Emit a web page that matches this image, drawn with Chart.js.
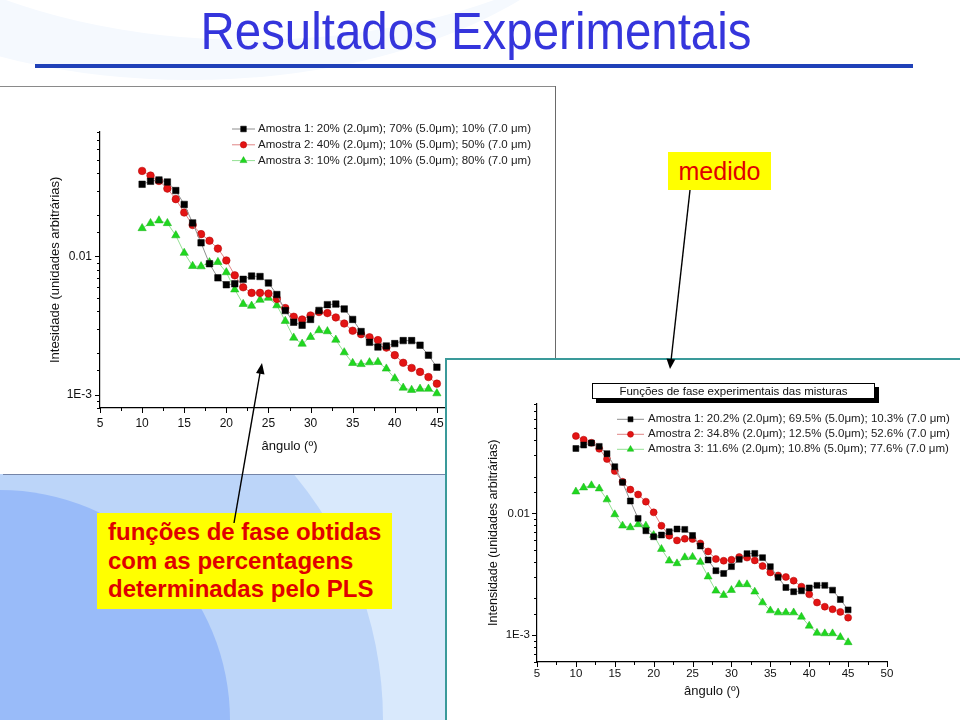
<!DOCTYPE html>
<html>
<head>
<meta charset="utf-8">
<script src="https://cdn.jsdelivr.net/npm/chart.js@4.4.1/dist/chart.umd.min.js"></script>
<style>
  body { margin: 0; width: 960px; height: 720px; overflow: hidden; background: #fff; position: relative;
         font-family: "Liberation Sans", Arial, sans-serif; }
  .abs { position: absolute; }
  #titulo { left: 476px; top: 3px; font-size: 51px; line-height: 57px; color: #3535dc; white-space: nowrap;
            transform: translateX(-50%) scaleX(0.93); }
  #regra { left: 35px; top: 64px; width: 878px; height: 4px; background: #2041b8; }
  #fundo { left: 0; top: 474px; width: 445px; height: 246px; overflow: hidden; background: #d9e9fc; }
  .circ { position: absolute; border-radius: 50%; }
  #painelInf { left: 445px; top: 358px; width: 513px; height: 360px; background: #fff;
               border-left: 2px solid #3a9a9a; border-top: 2px solid #3a9a9a; }
  #tituloInf { left: 592px; top: 383px; width: 281px; height: 14px; border: 1px solid #000; background: #fff;
               box-shadow: 4px 4px 0 #000; font-size: 11.5px; line-height: 14px; text-align: center; color: #111; }
  .caixa { background: #ffff00; color: #e00000; }
  #medido { left: 668px; top: 152px; width: 103px; height: 38px; font-size: 25px; line-height: 38px; text-align: center; }
  #pls { left: 97px; top: 513px; width: 295px; height: 96px; font-size: 24px; font-weight: bold; line-height: 28.5px;
         padding: 5px 0 0 11px; box-sizing: border-box; white-space: nowrap; }
</style>
</head>
<body>
<div class="abs" style="left:-260px;top:-420px;width:900px;height:500px;border-radius:50%;background:#f5f9fe;"></div>
<div class="abs" style="left:-200px;top:-460px;width:900px;height:500px;border-radius:50%;background:#fff;"></div>
<div id="titulo" class="abs">Resultados Experimentais</div>
<div id="regra" class="abs"></div>

<div id="fundo" class="abs">
  <div class="circ" style="left:-383px;top:-137px;width:766px;height:766px;background:#bcd5f9;"></div>
  <div class="circ" style="left:-230px;top:16px;width:460px;height:460px;background:#99bbf9;"></div>
</div>

<div class="abs" style="left:0;top:86px;width:556px;height:1px;background:#8a8a8a;"></div>
<canvas id="graficoMedido" class="abs" width="552" height="387" style="left:3px;top:87px;background:#fff;"></canvas>
<div class="abs" style="left:555px;top:86px;width:1px;height:389px;background:#6a6a6a;"></div>
<div class="abs" style="left:3px;top:474px;width:442px;height:1px;background:#7585a8;"></div>

<div id="painelInf" class="abs"></div>
<canvas id="graficoPLS" class="abs" width="513" height="360" style="left:447px;top:360px;"></canvas>
<div id="tituloInf" class="abs">Funções de fase experimentais das misturas</div>

<div id="medido" class="abs caixa">medido</div>
<div id="pls" class="abs caixa">funções de fase obtidas<br>com as percentagens<br>determinadas pelo PLS</div>

<svg class="abs" style="left:0;top:0;" width="960" height="720">
  <line x1="690" y1="190" x2="671.2" y2="359" stroke="#000" stroke-width="1.4"/>
  <polygon points="670,369 666.5,358.5 675.3,359.5" fill="#000"/>
  <line x1="234" y1="523" x2="260" y2="373" stroke="#000" stroke-width="1.4"/>
  <polygon points="262,363 256,373 264.5,374.5" fill="#000"/>
</svg>

<script>
// angulos (graus)
const angulos = [10, 11, 12, 13, 14, 15, 16, 17, 18, 19, 20, 21, 22, 23, 24, 25, 26, 27,
                 28, 29, 30, 31, 32, 33, 34, 35, 36, 37, 38, 39, 40, 41, 42, 43, 44, 45];

// funções de fase medidas
const medido1 = [0.0333, 0.0350, 0.0358, 0.0346, 0.0300, 0.0238, 0.0175, 0.01255, 0.00886, 0.00700,
                 0.00624, 0.00634, 0.00683, 0.00721, 0.00716, 0.00643, 0.00530, 0.00406, 0.00334, 0.00318,
                 0.00350, 0.00407, 0.00448, 0.00452, 0.00417, 0.00350, 0.00286, 0.00239, 0.00221, 0.00225,
                 0.00234, 0.00246, 0.00246, 0.00228, 0.00193, 0.00158];
const medido2 = [0.0416, 0.0385, 0.0352, 0.0310, 0.0260, 0.0208, 0.0169, 0.0145, 0.0130, 0.0114,
                 0.00936, 0.00730, 0.00598, 0.00545, 0.00545, 0.00539, 0.00493, 0.00423, 0.00366, 0.00350,
                 0.00374, 0.00396, 0.00389, 0.00362, 0.00327, 0.00290, 0.00274, 0.00260, 0.00248, 0.00219,
                 0.00193, 0.00170, 0.00156, 0.00146, 0.00134, 0.00120];
const medido3 = [0.0160, 0.0174, 0.0182, 0.0174, 0.0142, 0.0106, 0.00852, 0.00847, 0.00906, 0.00910,
                 0.00767, 0.00576, 0.00452, 0.00439, 0.00485, 0.00501, 0.00442, 0.00341, 0.00258, 0.00233,
                 0.00261, 0.00292, 0.00287, 0.00249, 0.00202, 0.00169, 0.00166, 0.00171, 0.00172, 0.00154,
                 0.00131, 0.00112, 0.00108, 0.00110, 0.00110, 0.00102];

// funções de fase com as percentagens do PLS
const pls1 = [0.0342, 0.0365, 0.0379, 0.0356, 0.0310, 0.0242, 0.0180, 0.01265, 0.00910, 0.00720,
              0.00643, 0.00664, 0.00707, 0.00744, 0.00739, 0.00659, 0.00540, 0.00414, 0.00338, 0.00321,
              0.00365, 0.00419, 0.00467, 0.00469, 0.00433, 0.00365, 0.00298, 0.00246, 0.00227, 0.00231,
              0.00244, 0.00256, 0.00256, 0.00234, 0.00196, 0.00161];
const pls2 = [0.0433, 0.0404, 0.0381, 0.0340, 0.0280, 0.0223, 0.0182, 0.0157, 0.0143, 0.0125,
              0.0102, 0.00792, 0.00656, 0.00600, 0.00619, 0.00616, 0.00567, 0.00487, 0.00422, 0.00408,
              0.00416, 0.00438, 0.00433, 0.00411, 0.00369, 0.00327, 0.00309, 0.00300, 0.00280, 0.00250,
              0.00216, 0.00185, 0.00171, 0.00163, 0.00155, 0.00139];
const pls3 = [0.0151, 0.0163, 0.0170, 0.0160, 0.0130, 0.00981, 0.00792, 0.00767, 0.00812, 0.00792,
              0.00664, 0.00509, 0.00408, 0.00388, 0.00435, 0.00438, 0.00398, 0.00302, 0.00231, 0.00213,
              0.00234, 0.00261, 0.00261, 0.00227, 0.00185, 0.00159, 0.00153, 0.00153, 0.00153, 0.00141,
              0.00119, 0.00104, 0.00103, 0.00103, 0.00096, 0.00087];

const legendaMedido = [
  "Amostra 1: 20% (2.0μm); 70% (5.0μm); 10% (7.0 μm)",
  "Amostra 2: 40% (2.0μm); 10% (5.0μm); 50% (7.0 μm)",
  "Amostra 3: 10% (2.0μm); 10% (5.0μm); 80% (7.0 μm)"
];
const legendaPLS = [
  "Amostra 1: 20.2% (2.0μm); 69.5% (5.0μm); 10.3% (7.0 μm)",
  "Amostra 2: 34.8% (2.0μm); 12.5% (5.0μm); 52.6% (7.0 μm)",
  "Amostra 3: 11.6% (2.0μm); 10.8% (5.0μm); 77.6% (7.0 μm)"
];

// rótulos das décadas no eixo y
const decadas = [0.001, 0.01];
const rotulosDecadas = ["1E-3", "0.01"];

Chart.defaults.font.family = '"Liberation Sans", Arial, sans-serif';
Chart.defaults.color = "#111";

function isDecada(v) {
  const l = Math.log10(v);
  return Math.abs(l - Math.round(l)) < 1e-6;
}

// marcas dos eixos (maiores nos rótulos, menores no meio)
const marcasEixos = {
  id: "marcasEixos",
  afterDraw(chart, args, opts) {
    const { ctx, scales: { x, y } } = chart;
    ctx.save();
    ctx.strokeStyle = "#000";
    ctx.lineWidth = 1;
    ctx.beginPath();
    for (let v = x.min; v <= x.max + 1e-9; v += 2.5) {
      const px = Math.round(x.getPixelForValue(v)) + 0.5;
      const len = Math.abs(v % 5) < 1e-9 ? opts.maior : opts.menor;
      ctx.moveTo(px, y.bottom);
      ctx.lineTo(px, y.bottom + len);
    }
    y.ticks.forEach((t) => {
      const py = Math.round(y.getPixelForValue(t.value)) + 0.5;
      const len = isDecada(t.value) ? opts.maior : opts.menor;
      ctx.moveTo(x.left, py);
      ctx.lineTo(x.left - len, py);
    });
    ctx.stroke();
    ctx.restore();
  }
};

// legenda com linha + símbolo
const legendaLinhas = {
  id: "legendaLinhas",
  afterDraw(chart, args, opts) {
    const ctx = chart.ctx;
    ctx.save();
    ctx.font = opts.font;
    ctx.textBaseline = "middle";
    chart.data.datasets.forEach((ds, i) => {
      const yy = opts.y + i * opts.gap;
      ctx.strokeStyle = ds.borderColor;
      ctx.lineWidth = 1;
      ctx.beginPath();
      ctx.moveTo(opts.x, yy);
      ctx.lineTo(opts.x + opts.len, yy);
      ctx.stroke();
      ctx.fillStyle = ds.pointBackgroundColor;
      ctx.strokeStyle = ds.pointBorderColor;
      ctx.lineWidth = 0.5;
      Chart.helpers.drawPoint(ctx, { pointStyle: ds.pointStyle, radius: opts.raio[i], rotation: 0, borderWidth: 0.5 },
        opts.x + opts.len / 2, yy);
      ctx.fillStyle = "#1a1a1a";
      ctx.fillText(ds.label, opts.x + opts.len + opts.textGap, yy);
    });
    ctx.restore();
  }
};

function serie(valores, label, estilo, cores, raio) {
  return {
    label: label,
    data: angulos.map((a, i) => ({ x: a, y: valores[i] })),
    borderColor: cores[0],
    borderWidth: 1,
    pointStyle: estilo,
    pointRadius: raio,
    pointBackgroundColor: cores[1],
    pointBorderColor: cores[2],
    pointBorderWidth: 0.5,
    tension: 0
  };
}

const corPreta = ["#8e8e8e", "#000000", "#000000"];
const corVermelha = ["#e08585", "#e31414", "#b00000"];
const corVerde = ["#93e093", "#1fd81f", "#18b018"];

function criarGrafico(id, series, cfg) {
  return new Chart(document.getElementById(id), {
    type: "line",
    data: { datasets: series },
    options: {
      responsive: false,
      animation: false,
      layout: { padding: cfg.padding },
      plugins: {
        legend: { display: false },
        tooltip: { enabled: false },
        marcasEixos: { maior: 5, menor: 3 },
        legendaLinhas: cfg.legenda
      },
      scales: {
        x: {
          type: "linear",
          min: 5, max: 50,
          ticks: { stepSize: 5, padding: cfg.xPad, font: { size: cfg.tickFont }, color: "#111" },
          grid: { display: true, drawOnChartArea: false, drawTicks: false },
          border: { display: true, color: "#000", width: 1.2 },
          title: { display: true, text: "ângulo (º)", font: { size: 13 }, color: "#111",
                   padding: { top: 0, bottom: cfg.xTitlePad } },
          afterFit: (s) => { s.height = cfg.xAltura; }
        },
        y: {
          type: "logarithmic",
          min: cfg.yMin, max: cfg.yMax,
          ticks: {
            autoSkip: false,
            padding: cfg.yPad,
            font: { size: cfg.tickFont },
            color: "#111",
            callback: (v) => {
              const k = decadas.findIndex((d) => Math.abs(d - v) / d < 1e-6);
              return k >= 0 ? rotulosDecadas[k] : "";
            }
          },
          grid: { display: true, drawOnChartArea: false, drawTicks: false },
          border: { display: true, color: "#000", width: 1.2 },
          title: { display: true, text: cfg.yTitulo, font: { size: cfg.yTitleFont }, color: "#111",
                   padding: { top: cfg.yTitlePad, bottom: 0 } },
          afterFit: (s) => { s.width = cfg.yLargura; }
        }
      }
    },
    plugins: [marcasEixos, legendaLinhas]
  });
}

criarGrafico("graficoMedido", [
  serie(medido1, legendaMedido[0], "rect", corPreta, 4.6),
  serie(medido2, legendaMedido[1], "circle", corVermelha, 3.8),
  serie(medido3, legendaMedido[2], "triangle", corVerde, 4.8)
], {
  padding: { left: 40, right: 76, top: 44.7, bottom: 16 },
  yMin: 0.0008, yMax: 0.08,
  xAltura: 50, yLargura: 57,
  xPad: 8, yPad: 8, tickFont: 12,
  xTitlePad: 4, yTitlePad: 5,
  yTitulo: "Intesidade (unidades arbitrárias)", yTitleFont: 13,
  legenda: { x: 229, y: 42, gap: 15.8, len: 23, textGap: 3, font: '11.5px "Liberation Sans", Arial, sans-serif', raio: [4, 3.2, 4] }
});

criarGrafico("graficoPLS", [
  serie(pls1, legendaPLS[0], "rect", corPreta, 4.2),
  serie(pls2, legendaPLS[1], "circle", corVermelha, 3.5),
  serie(pls3, legendaPLS[2], "triangle", corVerde, 4.6)
], {
  padding: { left: 35, right: 73, top: 43.6, bottom: 14 },
  yMin: 0.0006, yMax: 0.08,
  xAltura: 44, yLargura: 55,
  xPad: 5, yPad: 7, tickFont: 11.5,
  xTitlePad: 6.5, yTitlePad: 4.5,
  yTitulo: "Intensidade (unidades arbitrárias)", yTitleFont: 12.5,
  legenda: { x: 170, y: 59.3, gap: 15, len: 27, textGap: 4, font: '11.5px "Liberation Sans", Arial, sans-serif', raio: [3.6, 3, 3.8] }
});
</script>
</body>
</html>
